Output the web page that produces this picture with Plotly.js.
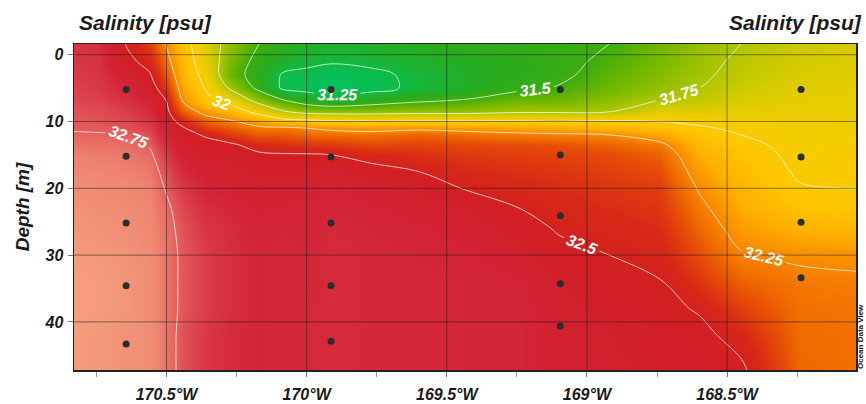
<!DOCTYPE html>
<html>
<head>
<meta charset="utf-8">
<script src="https://cdn.plot.ly/plotly-3.0.1.min.js"></script>
<style>
  html, body { margin: 0; padding: 0; background: #ffffff; }
  #chart { width: 866px; height: 404px; }
</style>
</head>
<body>
<div id="chart"></div>
<script>
// ---------------- data ----------------
// longitude (degrees east, i.e. negative = West) of the gridded section columns
const lonGrid = [-170.83, -170.74, -170.64, -170.56, -170.5, -170.44, -170.36, -170.27, -170.17, -170.08,
                 -170.0, -169.91, -169.77, -169.6, -169.42, -169.24, -169.1, -168.92, -168.74, -168.6,
                 -168.45, -168.24, -168.04];
// depth (m) of the gridded section rows
const depthGrid = [-1.6, 1, 3, 5, 7, 8.5, 10, 11, 12, 13.5, 15, 17.5, 20, 23, 26, 30, 34, 38, 42, 47.2];
// salinity [psu], one row per depth, one value per longitude
const salinity = [
  [32.66,32.64,32.49,32.40,32.24,32.07,31.87,31.67,31.50,31.42,31.36,31.34,31.36,31.40,31.43,31.45,31.46,31.50,31.60,31.68,31.75,31.82,31.85],
  [32.67,32.65,32.53,32.46,32.30,32.10,31.90,31.62,31.44,31.36,31.30,31.27,31.30,31.35,31.39,31.43,31.46,31.53,31.62,31.70,31.78,31.84,31.87],
  [32.68,32.66,32.57,32.51,32.36,32.13,31.94,31.58,31.42,31.22,31.20,31.16,31.20,31.30,31.36,31.42,31.47,31.56,31.65,31.72,31.80,31.86,31.88],
  [32.69,32.67,32.61,32.56,32.42,32.18,31.99,31.72,31.45,31.21,31.18,31.13,31.18,31.30,31.37,31.47,31.51,31.60,31.68,31.75,31.83,31.88,31.90],
  [32.70,32.69,32.65,32.60,32.50,32.24,32.05,31.94,31.70,31.53,31.42,31.35,31.42,31.49,31.53,31.60,31.60,31.68,31.76,31.80,31.86,31.90,31.91],
  [32.72,32.71,32.68,32.63,32.53,32.33,32.20,32.11,31.93,31.76,31.68,31.66,31.66,31.68,31.68,31.72,31.72,31.74,31.88,31.88,31.90,31.91,31.92],
  [32.73,32.72,32.70,32.66,32.56,32.45,32.33,32.27,32.17,32.08,32.06,32.03,32.02,32.02,32.02,32.02,32.00,32.03,32.00,31.97,31.94,31.92,31.93],
  [32.74,32.74,32.72,32.68,32.58,32.51,32.40,32.34,32.28,32.28,32.25,32.22,32.20,32.22,32.20,32.18,32.16,32.13,32.08,32.02,31.97,31.93,31.94],
  [32.76,32.755,32.75,32.71,32.60,32.53,32.49,32.41,32.35,32.35,32.32,32.31,32.30,32.33,32.30,32.28,32.27,32.25,32.18,32.07,32.00,31.94,31.95],
  [32.79,32.78,32.78,32.74,32.64,32.56,32.53,32.52,32.45,32.44,32.42,32.41,32.38,32.39,32.38,32.37,32.36,32.33,32.28,32.12,32.04,31.95,31.96],
  [32.82,32.81,32.80,32.77,32.67,32.59,32.55,32.55,32.52,32.51,32.51,32.50,32.46,32.43,32.41,32.40,32.39,32.37,32.33,32.16,32.07,31.96,31.97],
  [32.84,32.83,32.82,32.80,32.71,32.63,32.58,32.57,32.55,32.55,32.56,32.57,32.54,32.50,32.45,32.43,32.42,32.40,32.37,32.20,32.10,31.98,31.98],
  [32.86,32.85,32.84,32.82,32.74,32.67,32.61,32.59,32.57,32.58,32.58,32.60,32.58,32.55,32.49,32.46,32.44,32.42,32.40,32.24,32.13,32.01,32.00],
  [32.87,32.86,32.85,32.83,32.77,32.70,32.64,32.61,32.59,32.60,32.60,32.61,32.60,32.58,32.56,32.50,32.46,32.44,32.42,32.28,32.16,32.07,32.05],
  [32.88,32.87,32.86,32.84,32.78,32.72,32.66,32.63,32.60,32.61,32.60,32.62,32.61,32.60,32.58,32.54,32.49,32.46,32.44,32.32,32.20,32.14,32.12],
  [32.90,32.89,32.87,32.85,32.79,32.73,32.68,32.64,32.61,32.62,32.61,32.63,32.62,32.61,32.60,32.57,32.53,32.50,32.47,32.37,32.26,32.23,32.22],
  [32.91,32.90,32.88,32.86,32.79,32.73,32.68,32.64,32.61,32.62,32.61,32.63,32.62,32.62,32.61,32.60,32.56,32.53,32.505,32.42,32.33,32.28,32.27],
  [32.91,32.90,32.88,32.86,32.79,32.73,32.68,32.64,32.61,32.62,32.62,32.63,32.62,32.62,32.61,32.61,32.57,32.55,32.53,32.49,32.40,32.30,32.29],
  [32.90,32.89,32.87,32.86,32.79,32.72,32.67,32.63,32.61,32.62,32.62,32.63,32.62,32.62,32.61,32.61,32.58,32.56,32.54,32.53,32.46,32.31,32.30],
  [32.90,32.89,32.87,32.86,32.79,32.72,32.67,32.63,32.61,32.62,32.62,32.63,32.62,32.62,32.61,32.61,32.58,32.57,32.55,32.54,32.52,32.32,32.30]
];
// sampling stations (longitude) and their bottle depths (m)
const stationLon = [-170.644, -169.913, -169.095, -168.236];
const stationDepths = [
  [5.2, 15.2, 25.2, 34.6, 43.3],
  [5.2, 15.3, 25.2, 34.6, 42.9],
  [5.2, 15.0, 24.1, 34.3, 40.6],
  [5.2, 15.3, 25.1, 33.4]
];
// axis ticks
const xTickVals = [-170.5, -170, -169.5, -169, -168.5];
const xTickText = ['170.5°W', '170°W', '169.5°W', '169°W', '168.5°W'];
const xMinorTicks = [-170.75, -170.25, -169.75, -169.25, -168.75, -168.25];
const yTickVals = [0, 10, 20, 30, 40];
const yTickText = ['0', '10', '20', '30', '40'];
// contour levels
const contourStart = 31.25, contourEnd = 32.75, contourStep = 0.25;

// ---------------- style ----------------
const zMin = 31.1, zMax = 32.92;
const paletteStops = [
  [31.10, 'rgb(0,196,100)'],
  [31.25, 'rgb(15,186,70)'],
  [31.40, 'rgb(40,171,30)'],
  [31.50, 'rgb(62,172,15)'],
  [31.60, 'rgb(112,183,0)'],
  [31.75, 'rgb(176,198,0)'],
  [31.85, 'rgb(214,203,0)'],
  [31.95, 'rgb(244,205,0)'],
  [32.05, 'rgb(255,198,0)'],
  [32.15, 'rgb(254,176,0)'],
  [32.25, 'rgb(248,135,0)'],
  [32.32, 'rgb(238,103,0)'],
  [32.38, 'rgb(228,70,10)'],
  [32.45, 'rgb(215,40,24)'],
  [32.52, 'rgb(210,30,35)'],
  [32.60, 'rgb(210,34,52)'],
  [32.67, 'rgb(217,55,70)'],
  [32.74, 'rgb(228,92,92)'],
  [32.82, 'rgb(238,130,110)'],
  [32.92, 'rgb(245,162,128)']
];
const colorscale = paletteStops.map(s => [(s[0] - zMin) / (zMax - zMin), s[1]]);
const FONT = 'Liberation Sans, Arial, sans-serif';
const gridColor = 'rgba(25,25,25,0.5)';

// ---------------- traces ----------------
const field = {
  type: 'contour',
  x: lonGrid,
  y: depthGrid,
  z: salinity,
  zmin: zMin,
  zmax: zMax,
  colorscale: colorscale,
  showscale: false,
  contours: {
    start: contourStart,
    end: contourEnd,
    size: contourStep,
    coloring: 'heatmap',
    showlabels: true,
    labelfont: { family: FONT, size: 16, color: '#ffffff', weight: 'bold', style: 'italic' }
  },
  line: { color: 'rgba(255,255,255,0.7)', width: 1, smoothing: 1 },
  hoverinfo: 'skip'
};

const sx = [], sy = [];
stationLon.forEach((lon, i) => {
  stationDepths[i].forEach(d => { sx.push(lon); sy.push(d); });
});
const stations = {
  type: 'scatter',
  mode: 'markers',
  x: sx,
  y: sy,
  marker: { color: '#2d2d2d', size: 7 },
  hoverinfo: 'skip'
};

// grid lines drawn above the field, at the axis tick values
const shapes = [];
xTickVals.forEach(v => shapes.push({
  type: 'line', xref: 'x', yref: 'paper', x0: v, x1: v, y0: 0, y1: 1,
  line: { color: gridColor, width: 1 }, layer: 'above'
}));
yTickVals.forEach(v => shapes.push({
  type: 'line', xref: 'paper', yref: 'y', x0: 0, x1: 1, y0: v, y1: v,
  line: { color: gridColor, width: 1 }, layer: 'above'
}));

const tickFont = { family: FONT, size: 16, color: '#1a1a1a', weight: 'bold', style: 'italic' };

const layout = {
  width: 866,
  height: 404,
  margin: { l: 74, r: 10, t: 44, b: 34 },
  paper_bgcolor: '#ffffff',
  plot_bgcolor: '#ffffff',
  showlegend: false,
  xaxis: {
    range: [lonGrid[0], lonGrid[lonGrid.length - 1]],
    tickmode: 'array',
    tickvals: xTickVals,
    ticktext: xTickText,
    ticks: 'outside',
    ticklen: 5,
    tickwidth: 1,
    tickcolor: '#777',
    ticklabelstandoff: 4,
    minor: { tickmode: 'array', tickvals: xMinorTicks, ticks: 'outside', ticklen: 5, tickcolor: '#999', showgrid: false },
    showgrid: false,
    zeroline: false,
    showline: true,
    linecolor: '#222',
    linewidth: 1.5,
    mirror: true,
    tickfont: tickFont,
    layer: 'above traces'
  },
  yaxis: {
    range: [depthGrid[depthGrid.length - 1], depthGrid[0]],
    tickmode: 'array',
    tickvals: yTickVals,
    ticktext: yTickText,
    ticks: 'outside',
    ticklen: 5,
    tickwidth: 1,
    tickcolor: '#777',
    ticklabelstandoff: 1,
    showgrid: false,
    zeroline: false,
    showline: true,
    linecolor: '#222',
    linewidth: 1.5,
    mirror: true,
    tickfont: tickFont,
    layer: 'above traces',
    title: { text: 'Depth [m]', standoff: 10, font: { family: FONT, size: 19, color: '#1a1a1a', weight: 'bold', style: 'italic' } }
  },
  shapes: shapes,
  annotations: [
    {
      text: 'Salinity [psu]', xref: 'paper', yref: 'paper', x: 0.004, y: 1, xanchor: 'left', yanchor: 'bottom', yshift: 8,
      showarrow: false, font: { family: FONT, size: 21, color: '#1a1a1a', weight: 'bold', style: 'italic' }
    },
    {
      text: 'Salinity [psu]', xref: 'paper', yref: 'paper', x: 1, y: 1, xanchor: 'right', yanchor: 'bottom', yshift: 8, xshift: 8,
      showarrow: false, font: { family: FONT, size: 21, color: '#1a1a1a', weight: 'bold', style: 'italic' }
    },
    {
      text: 'Ocean Data View', xref: 'paper', yref: 'paper', x: 1, y: 0, xanchor: 'left', yanchor: 'bottom', xshift: -1,
      textangle: -90, showarrow: false, borderpad: 0, font: { family: FONT, size: 8, color: '#222', weight: 'bold' }
    }
  ]
};

Plotly.newPlot('chart', [field, stations], layout, { staticPlot: true, displayModeBar: false });
</script>
</body>
</html>
